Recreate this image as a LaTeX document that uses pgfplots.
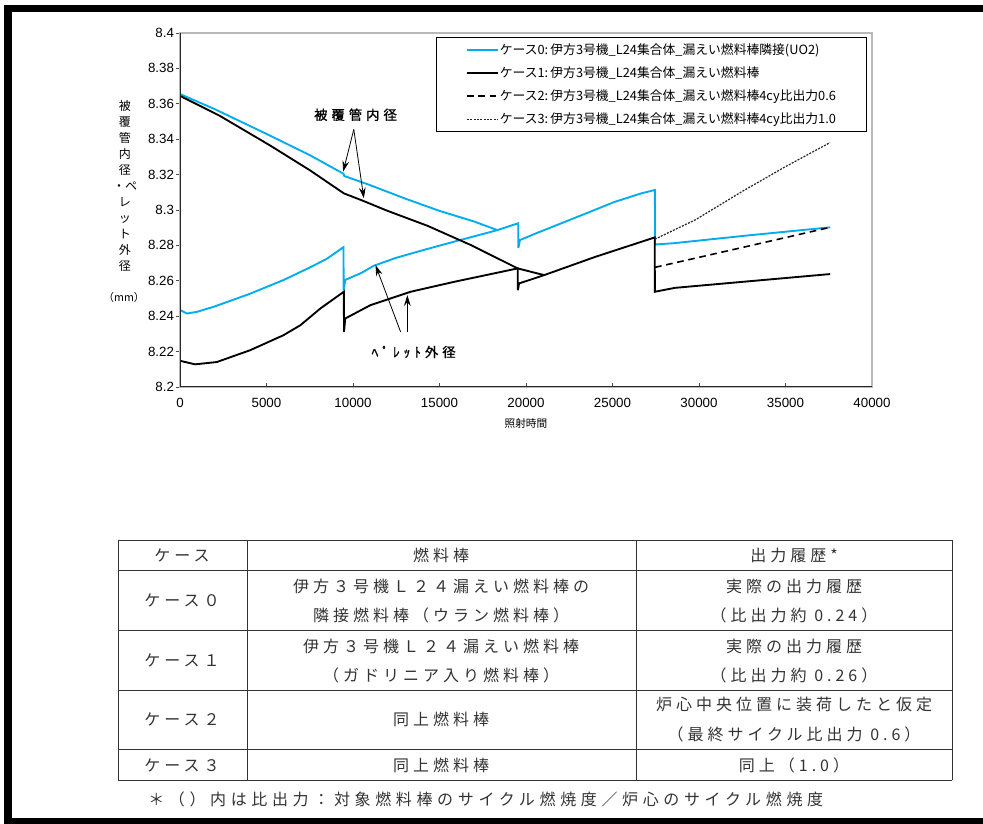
\documentclass[border=0pt]{standalone}
\usepackage{fontspec}
\setmainfont{Liberation Sans}
\newfontfamily\jp{Noto Sans CJK JP}
\newfontfamily\jpt[LetterSpace=25]{Noto Sans CJK JP}
\newfontfamily\jpf[LetterSpace=29]{Noto Sans CJK JP}
\newfontfamily\jpa[LetterSpace=30, FakeBold=1.2]{Noto Sans CJK JP}
\usepackage{pgfplots}
\pgfplotsset{compat=1.18}
\usetikzlibrary{arrows.meta}
\definecolor{cblue}{RGB}{0,172,236}
\begin{document}
\begin{tikzpicture}
\useasboundingbox (0pt,0pt) rectangle (737.25pt,618pt);
\fill[white] (0pt,0pt) rectangle (737.25pt,618pt);

\begin{axis}[
  at={(135pt,327.75pt)}, anchor=south west,
  scale only axis, width=519pt, height=265.5pt,
  xmin=0, xmax=40000, ymin=8.2, ymax=8.4,
  xtick={0,5000,10000,15000,20000,25000,30000,35000,40000},
  ytick={8.2,8.22,8.24,8.26,8.28,8.3,8.32,8.34,8.36,8.38,8.4},
  tick pos=left, tick align=inside, major tick length=3pt,
  y tick style={xshift=-3pt},
  tick style={black!70, line width=0.6pt},
  axis line style={gray!55, line width=0.8pt},
  scaled x ticks=false,
  xticklabel style={/pgf/number format/1000 sep={}, yshift=-5pt},
  yticklabel style={xshift=-1pt},
  /pgf/number format/assume math mode=true,
  ticklabel style={font=\fontsize{10}{12}\selectfont},
  xlabel={照射時間}, xlabel style={font=\jp\fontsize{8}{9}\selectfont, yshift=-1pt},
  legend style={at={(0.9928,0.989)}, anchor=north east, draw=black, line width=0.6pt,
    font=\jp\fontsize{9.6}{10.5}\selectfont, row sep=3.8pt, inner xsep=22pt, inner ysep=2.5pt,
    nodes={inner xsep=1pt}},
  legend cell align=left,
  legend image code/.code={\draw[#1] (0pt,0pt) -- (23pt,0pt);},
]
% case 0 pellet (legend)
\addplot[cblue, line width=1.4pt] coordinates {
(0,8.2435) (400,8.2415) (1000,8.2425) (2000,8.2455) (4000,8.2525) (6000,8.2605) (7500,8.2675) (8500,8.2725) (9450,8.279)
(9460,8.2545) (9550,8.2605) (10500,8.2645) (11200,8.2685) (12500,8.273) (14300,8.278) (16000,8.2825) (18300,8.2885)
(19550,8.2925) (19560,8.2785) (19650,8.283) (20500,8.2865) (23200,8.297) (25100,8.3045) (26700,8.3095) (27450,8.3113)
(27460,8.2805) (28500,8.2812) (33000,8.2858) (37580,8.2902)};
\addlegendentry{ケース0:\,伊方3号機\_L24集合体\_漏えい燃料棒隣接(UO2)}
% case 1 pellet
\addplot[black, line width=1.4pt] coordinates {
(0,8.2148) (870,8.2128) (2130,8.2141) (4060,8.2208) (5970,8.2292) (6960,8.2349) (8120,8.2444) (9470,8.2538)
(9480,8.231) (9550,8.2387) (11000,8.2462) (13330,8.2538) (15840,8.2594) (19520,8.267)
(19530,8.2547) (19600,8.2585) (21050,8.2632) (24000,8.2735) (27440,8.2845)
(27450,8.2538) (28600,8.256) (37580,8.2638)};
\addlegendentry{ケース1:\,伊方3号機\_L24集合体\_漏えい燃料棒}
% case 2
\addplot[black, line width=1.2pt, dash pattern=on 5pt off 3.5pt] coordinates {
(27460,8.2676) (32500,8.2788) (37580,8.2902)};
\addlegendentry{ケース2:\,伊方3号機\_L24集合体\_漏えい燃料棒4cy比出力0.6}
% case 3
\addplot[black!85, line width=0.9pt, dash pattern=on 1.5pt off 1pt] coordinates {
(27450,8.2835) (29800,8.2945) (32500,8.3105) (35000,8.3245) (37580,8.3381)};
\addlegendentry{ケース3:\,伊方3号機\_L24集合体\_漏えい燃料棒4cy比出力1.0}
% cladding inner diameters
\addplot[cblue, line width=1.4pt, forget plot] coordinates {
(0,8.3655) (2000,8.357) (5000,8.343) (7500,8.331) (9450,8.3205) (9500,8.3192) (11000,8.314) (13000,8.3065)
(15000,8.2995) (17000,8.2935) (18300,8.2888)};
\addplot[black, line width=1.4pt, forget plot] coordinates {
(0,8.3645) (2300,8.3532) (5200,8.3365) (7500,8.3225) (9470,8.3094) (10500,8.3055) (12000,8.2995) (14300,8.2911)
(16810,8.2802) (19520,8.267) (21050,8.2632)};
% annotations
\node[font=\jpa\fontsize{10}{12}\selectfont] at (axis cs:10145,8.3538) {被覆管内径};
\draw[black, line width=0.6pt, -{Stealth[length=8pt,width=5pt]}] (axis cs:10046,8.3455) -- (axis cs:9432,8.3217);
\draw[black, line width=0.6pt, -{Stealth[length=8pt,width=5pt]}] (axis cs:10046,8.3455) -- (axis cs:10626,8.3066);
\node[font=\jpa\fontsize{10}{12}\selectfont] at (axis cs:13507,8.2198) {ﾍﾟﾚｯﾄ外径};
\draw[black, line width=0.6pt, -{Stealth[length=8pt,width=5pt]}] (axis cs:12753,8.2311) -- (axis cs:11304,8.2688);
\draw[black, line width=0.6pt, -{Stealth[length=8pt,width=5pt]}] (axis cs:13142,8.2311) -- (axis cs:13142,8.2519);
\draw[black!85, line width=0.8pt] (rel axis cs:0,1) -- (rel axis cs:0,0) -- (rel axis cs:1,0);
\end{axis}

\begin{scope}[x=0.75pt, y=-0.75pt, yshift=618pt]
\fill[black] (4,5) rectangle (983,12);
\fill[black] (4,5) rectangle (12,824);
\fill[black] (4,818) rectangle (983,824);
% y label
\node[anchor=north, align=center, font=\jp\fontsize{9}{12}\selectfont, inner sep=0pt] at (125,100)
  {被\\覆\\管\\内\\径\\・ペ\\レ\\ッ\\ト\\外\\径};
\node[font=\jp\fontsize{8}{10}\selectfont, inner sep=0pt] at (124,297) {（mm）};

% table
\begin{scope}[draw=black!80, line width=0.7pt]
\foreach \yy in {540,570,630,690,749,780} \draw (118,\yy) -- (952,\yy);
\foreach \xx in {118,247,636,952} \draw (\xx,540) -- (\xx,780);
\end{scope}
\begin{scope}[every node/.style={font=\jpt\fontsize{12}{14}\selectfont, text=black!80, inner sep=0pt}]
\node at (182,555) {ケース};
\node at (441,555) {燃料棒};
\node at (794,555) {出力履歴*};
\node at (182,600) {ケース０};
\node at (441,586) {伊方３号機Ｌ２４漏えい燃料棒の};
\node at (441,615) {隣接燃料棒（ウラン燃料棒）};
\node at (794,586) {実際の出力履歴};
\node at (794,615) {（比出力約 0.24）};
\node at (182,660) {ケース１};
\node at (441,646) {伊方３号機Ｌ２４漏えい燃料棒};
\node at (441,675) {（ガドリニア入り燃料棒）};
\node at (794,646) {実際の出力履歴};
\node at (794,675) {（比出力約 0.26）};
\node at (182,719) {ケース２};
\node at (441,719) {同上燃料棒};
\node at (794,704) {炉心中央位置に装荷したと仮定};
\node at (794,734) {（最終サイクル比出力 0.6）};
\node at (182,765) {ケース３};
\node at (441,765) {同上燃料棒};
\node at (794,765) {同上（1.0）};
\node[anchor=west, font=\jpf\fontsize{12}{14}\selectfont] at (148,799) {＊（）内は比出力：対象燃料棒のサイクル燃焼度／炉心のサイクル燃焼度};
\end{scope}
\end{scope}
\end{tikzpicture}
\end{document}
